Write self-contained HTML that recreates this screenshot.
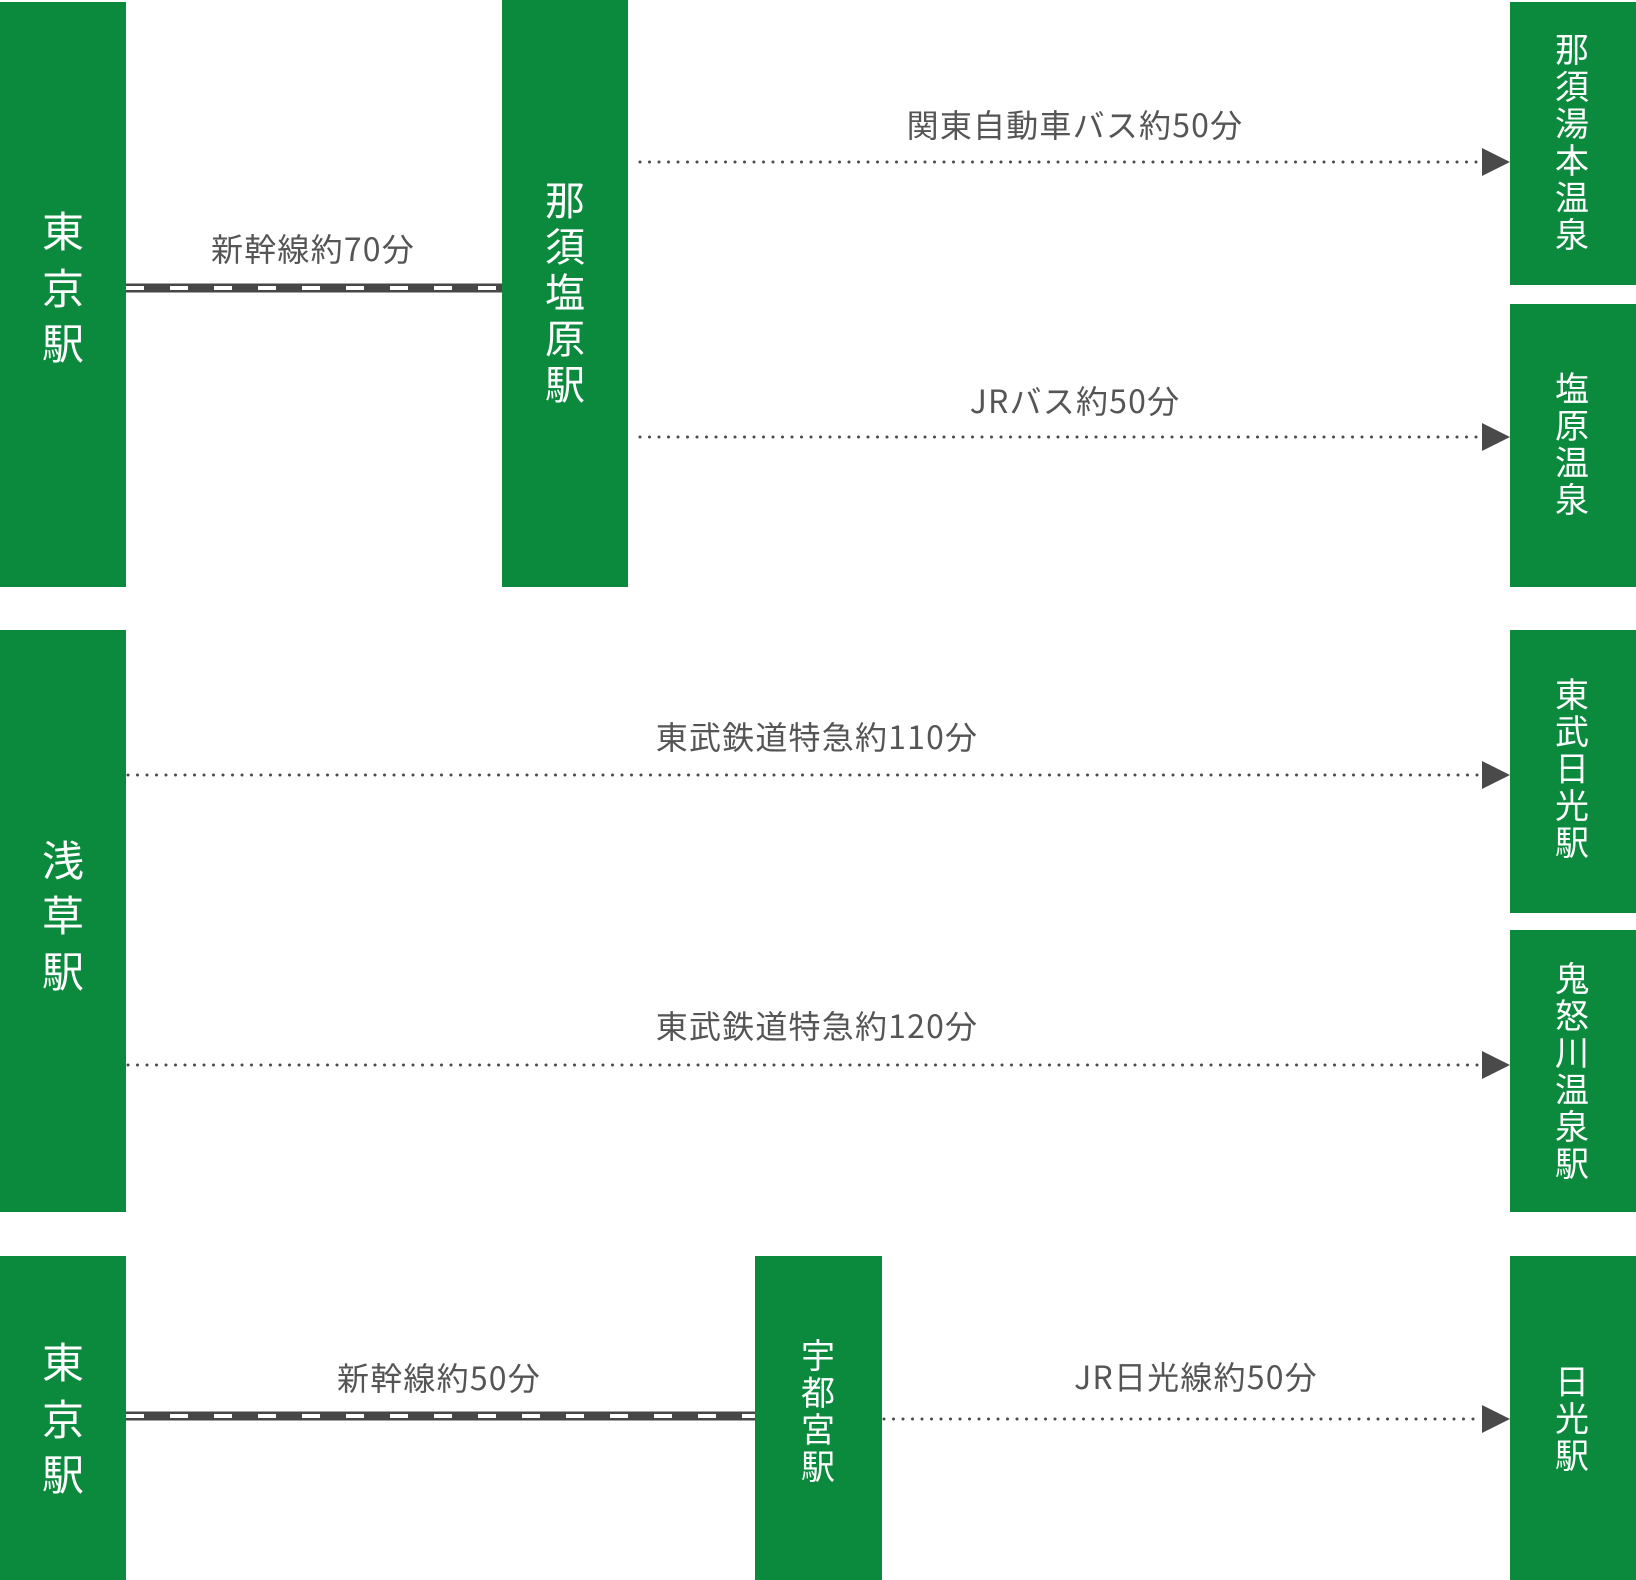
<!DOCTYPE html>
<html><head><meta charset="utf-8"><style>
html,body{margin:0;padding:0;background:#fff;}
svg{display:block;}
text{font-family:"Noto Sans CJK JP","Liberation Sans",sans-serif;}
</style></head><body>
<svg width="1636" height="1580" viewBox="0 0 1636 1580" xmlns="http://www.w3.org/2000/svg">
<g fill="#0b8a3d">
<rect x="0" y="2" width="126" height="585"/>
<rect x="502" y="0" width="126" height="587"/>
<rect x="1510" y="2" width="126" height="283"/>
<rect x="1510" y="304" width="126" height="283"/>
<rect x="0" y="630" width="126" height="582"/>
<rect x="1510" y="630" width="126" height="283"/>
<rect x="1510" y="930" width="126" height="282"/>
<rect x="0" y="1256" width="126" height="324"/>
<rect x="755" y="1256" width="127" height="324"/>
<rect x="1510" y="1256" width="126" height="324"/>
</g>
<g>
<line x1="126" y1="288" x2="502" y2="288" stroke="#474747" stroke-width="9"/>
<line x1="126" y1="288" x2="502" y2="288" stroke="#fff" stroke-width="4" stroke-dasharray="18 26"/>
<line x1="126" y1="1416" x2="755" y2="1416" stroke="#474747" stroke-width="9"/>
<line x1="126" y1="1416" x2="755" y2="1416" stroke="#fff" stroke-width="4" stroke-dasharray="18 26"/>
</g>
<g stroke="#4a4a4a" stroke-width="3" stroke-linecap="round" stroke-dasharray="0 9.5" fill="none">
<line x1="640" y1="162" x2="1482" y2="162"/>
<line x1="640" y1="437" x2="1482" y2="437"/>
<line x1="128" y1="775" x2="1482" y2="775"/>
<line x1="128" y1="1065" x2="1482" y2="1065"/>
<line x1="884" y1="1419" x2="1482" y2="1419"/>
</g>
<g fill="#4a4a4a">
<polygon points="1482,148 1510,162 1482,176"/>
<polygon points="1482,423 1510,437 1482,451"/>
<polygon points="1482,761 1510,775 1482,789"/>
<polygon points="1482,1051 1510,1065 1482,1079"/>
<polygon points="1482,1405 1510,1419 1482,1433"/>
</g>
<g fill="#555" font-size="32" letter-spacing="1.2" text-anchor="middle">
<text x="313" y="261">新幹線約70分</text>
<text x="1075" y="137">関東自動車バス約50分</text>
<text x="1075" y="413">JRバス約50分</text>
<text x="817" y="749">東武鉄道特急約110分</text>
<text x="817" y="1038">東武鉄道特急約120分</text>
<text x="439" y="1390">新幹線約50分</text>
<text x="1196" y="1389">JR日光線約50分</text>
</g>
<g fill="#fff" text-anchor="middle" font-size="42">
<text x="63" y="247">東</text><text x="63" y="304">京</text><text x="63" y="359">駅</text>
<text x="63" y="876">浅</text><text x="63" y="931">草</text><text x="63" y="987">駅</text>
<text x="63" y="1378">東</text><text x="63" y="1435">京</text><text x="63" y="1490">駅</text>
</g>
<g fill="#fff" text-anchor="middle" font-size="40">
<text x="565" y="215">那</text><text x="565" y="261">須</text><text x="565" y="307">塩</text><text x="565" y="353">原</text><text x="565" y="399">駅</text>
</g>
<g fill="#fff" text-anchor="middle" font-size="34">
<text x="1572" y="62">那</text><text x="1572" y="99">須</text><text x="1572" y="136">湯</text><text x="1572" y="173">本</text><text x="1572" y="210">温</text><text x="1572" y="247">泉</text>
<text x="1572" y="401">塩</text><text x="1572" y="438">原</text><text x="1572" y="475">温</text><text x="1572" y="512">泉</text>
<text x="1572" y="707">東</text><text x="1572" y="744">武</text><text x="1572" y="781">日</text><text x="1572" y="818">光</text><text x="1572" y="855">駅</text>
<text x="1572" y="991">鬼</text><text x="1572" y="1028">怒</text><text x="1572" y="1065">川</text><text x="1572" y="1102">温</text><text x="1572" y="1139">泉</text><text x="1572" y="1176">駅</text>
<text x="1572" y="1394">日</text><text x="1572" y="1431">光</text><text x="1572" y="1468">駅</text>
<text x="818" y="1368">宇</text><text x="818" y="1405">都</text><text x="818" y="1442">宮</text><text x="818" y="1479">駅</text>
</g>
</svg>
</body></html>
